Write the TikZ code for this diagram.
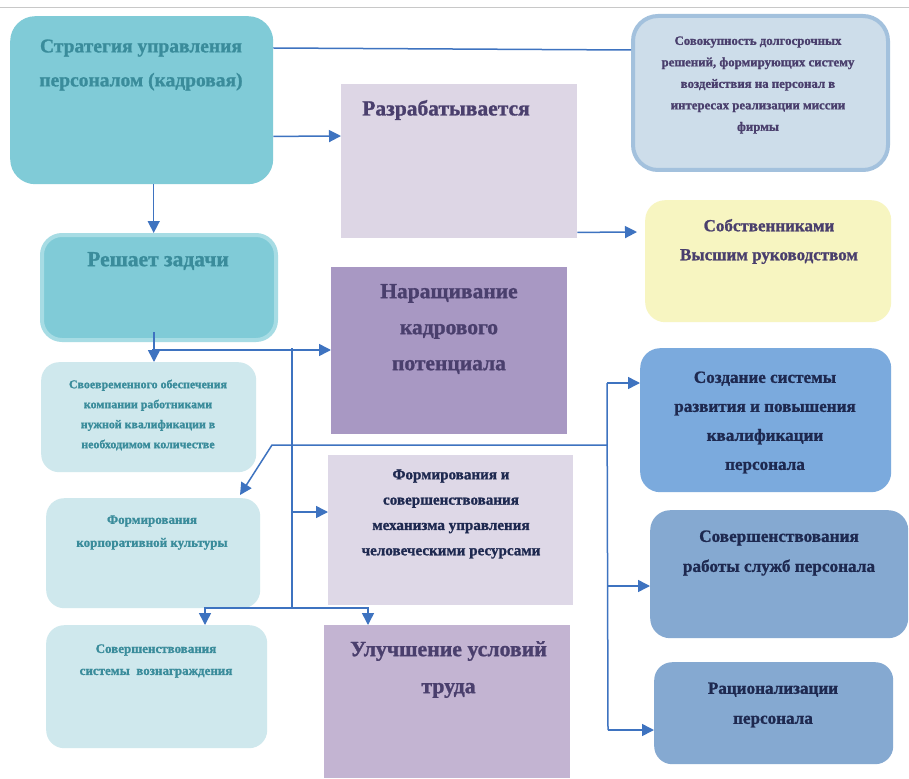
\documentclass[tikz,border=0pt]{standalone}
\usepackage{fontspec}
\setmainfont{Liberation Serif}[BoldFeatures={FakeBold=1.2}]
\usetikzlibrary{arrows.meta,calc}
\definecolor{lc}{HTML}{3E73C0}
\definecolor{tealbox}{HTML}{80CBD7}
\definecolor{tealedge}{HTML}{A7DCE4}
\definecolor{lightcyan}{HTML}{CFE8ED}
\definecolor{tealtxt}{HTML}{3A8C9B}
\definecolor{lilac}{HTML}{DDD6E5}
\definecolor{sovfill}{HTML}{CDDDEA}
\definecolor{sovedge}{HTML}{A3C1DD}
\definecolor{yell}{HTML}{F7F5C1}
\definecolor{purp}{HTML}{A898C3}
\definecolor{lilac2}{HTML}{DED8E7}
\definecolor{purp2}{HTML}{C3B4D2}
\definecolor{blue1}{HTML}{7BAADD}
\definecolor{blue2}{HTML}{85A9D1}
\definecolor{purptxt}{HTML}{4A3F6D}
\definecolor{navytxt}{HTML}{1E2950}
\definecolor{toprule}{HTML}{C8C8C8}
\begin{document}
\begin{tikzpicture}[x=1pt,y=-1pt,
  box/.style={draw=none, inner sep=0pt, anchor=north west},
  txt/.style={align=center, inner sep=0pt},
  conn/.style={draw=lc, line width=1.5pt},
  arr/.style={conn, -{Triangle[length=12pt,width=12pt]}}
]
\useasboundingbox (0,0) rectangle (909,778);
\fill[white] (0,0) rectangle (909,778);
\coordinate (tl) at (0,8);
\coordinate (tr) at (909,8);
\draw[toprule, line width=1pt] (tl) -- (tr);

% boxes
\node[box, fill=tealbox, rounded corners=25pt, minimum width=263pt, minimum height=168pt] (b1) at (10,16) {};
\node[box, fill=lilac, minimum width=236pt, minimum height=154pt] (razr) at (341,84) {};
\node[box, fill=sovfill, draw=sovedge, line width=4pt, rounded corners=25pt, minimum width=255pt, minimum height=154pt] (sov) at (631,14) {};
\node[box, fill=yell, rounded corners=20pt, minimum width=246pt, minimum height=122pt] (sob) at (645,200) {};
\node[box, fill=tealbox, draw=tealedge, line width=4pt, rounded corners=20pt, minimum width=234pt, minimum height=105pt] (resh) at (40,233) {};
\node[box, fill=lightcyan, rounded corners=18pt, minimum width=215pt, minimum height=110pt] (sv) at (41,362) {};
\node[box, fill=lightcyan, rounded corners=18pt, minimum width=214pt, minimum height=110pt] (fk) at (46,498) {};
\node[box, fill=lightcyan, rounded corners=18pt, minimum width=221pt, minimum height=123pt] (sw) at (46,625) {};
\node[box, fill=purp, minimum width=236pt, minimum height=167pt] (nar) at (331,267) {};
\node[box, fill=lilac2, minimum width=245pt, minimum height=150pt] (form) at (328,455) {};
\node[box, fill=purp2, minimum width=246pt, minimum height=153pt] (ul) at (324,625) {};
\node[box, fill=blue1, rounded corners=20pt, minimum width=251pt, minimum height=144pt] (soz) at (640,348) {};
\node[box, fill=blue2, rounded corners=20pt, minimum width=258pt, minimum height=128pt] (sr) at (650,510) {};
\node[box, fill=blue2, rounded corners=18pt, minimum width=239pt, minimum height=102pt] (rac) at (654,662) {};

% texts
\node[txt, text=tealtxt, font=\bfseries\fontsize{19.5}{34}\selectfont] (t1) at (141,65) {Стратегия управления\\персоналом (кадровая)};
\node[txt, text=purptxt, font=\bfseries\fontsize{21.5}{26}\selectfont] (t2) at (446,110) {Разрабатывается};
\node[txt, text=purptxt, font=\bfseries\fontsize{12.8}{21.5}\selectfont] (t3) at (758,85) {Совокупность долгосрочных\\решений, формирующих систему\\воздействия на персонал в\\интересах реализации миссии\\фирмы};
\node[txt, text=purptxt, font=\bfseries\fontsize{17}{29}\selectfont] (t4) at (769,241.5) {Собственниками\\Высшим руководством};
\node[txt, text=tealtxt, font=\bfseries\fontsize{21.5}{24}\selectfont] (t5) at (158,261) {Решает задачи};
\node[txt, text=tealtxt, font=\bfseries\fontsize{11.9}{20}\selectfont] (t6) at (148,415) {Своевременного обеспечения\\компании работниками\\нужной квалификации в\\необходимом количестве};
\node[txt, text=tealtxt, font=\bfseries\fontsize{13}{23}\selectfont] (t7) at (152,532.5) {Формирования\\корпоративной культуры};
\node[txt, text=tealtxt, font=\bfseries\fontsize{13}{22}\selectfont] (t8) at (156,661) {Совершенствования\\системы\ \ вознаграждения};
\node[txt, text=purptxt, font=\bfseries\fontsize{21.5}{36}\selectfont] (t9) at (449,329) {Наращивание\\кадрового\\потенциала};
\node[txt, text=navytxt, font=\bfseries\fontsize{15.1}{25.3}\selectfont] (t10) at (451,514) {Формирования и\\совершенствования\\механизма управления\\человеческими ресурсами};
\node[txt, text=purptxt, font=\bfseries\fontsize{21.8}{37}\selectfont] (t11) at (448.5,669.5) {Улучшение условий\\труда};
\node[txt, text=navytxt, font=\bfseries\fontsize{17.1}{29}\selectfont] (t12) at (765,422.5) {Создание системы\\развития и повышения\\квалификации\\персонала};
\node[txt, text=navytxt, font=\bfseries\fontsize{17.2}{30}\selectfont] (t13) at (779,553) {Совершенствования\\работы служб персонала};
\node[txt, text=navytxt, font=\bfseries\fontsize{17.1}{30}\selectfont] (t14) at (773,705) {Рационализации\\персонала};

% junction coordinates
\coordinate (j1) at (152,350);
\coordinate (j2) at (292,348);
\coordinate (j3) at (292,608);
\coordinate (j4) at (292,512);
\coordinate (j5) at (205,608);
\coordinate (j6) at (368,608);
\coordinate (r1) at (607,383);
\coordinate (r2) at (607,586);
\coordinate (r3) at (608,730);
\coordinate (r4) at (607,445);
\coordinate (k1) at (272,445);
\coordinate (k2) at (240,495);

% connectors
\draw[conn] ([yshift=-32pt]b1.north east) -- ([yshift=-36pt]sov.north west);
\draw[arr] ([yshift=48pt]b1.south east) -- ([yshift=-52pt]razr.north west);
\draw[arr] ([yshift=6pt]razr.south east) -- ([shift={(-8pt,-32pt)}]sob.north west);
\draw[arr] ([xshift=12pt]b1.south) -- ([xshift=12pt]b1.south |- resh.north);
\draw[arr] ([shift={(-5pt,10pt)}]resh.south) -- ([xshift=-5pt]resh.south |- sv.north);
\draw[arr] (j1) -- (j1 -| nar.west);
\draw[conn] (j2) -- (j3);
\draw[arr] (j4) -- (j4 -| form.west);
\draw[arr] (j3) -- (j5) -- (j5 |- sw.north);
\draw[arr] (j3) -- (j6) -- (j6 |- ul.north);
\draw[conn] (r1) -- (r3);
\draw[arr] (r1) -- (r1 -| soz.west);
\draw[arr] (r2) -- (r2 -| sr.west);
\draw[arr] (r3) -- (r3 -| rac.west);
\draw[arr] (r4) -- (k1) -- (k2);
\end{tikzpicture}
\end{document}
